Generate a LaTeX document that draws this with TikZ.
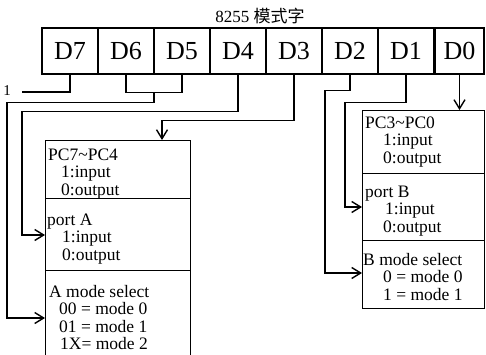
\documentclass[tikz,border=0pt]{standalone}
\usepackage{fontspec}
\setmainfont{Liberation Serif}
\newfontfamily\cjk{Noto Sans CJK SC}
\usetikzlibrary{arrows.meta,calc}
\begin{document}
\begin{tikzpicture}[x=1pt,y=-1pt,
  cell/.style={draw,line width=1.4pt,minimum height=46pt,inner sep=0pt,font=\fontsize{26}{28}\selectfont},
  sect/.style={draw,line width=1.4pt,inner sep=0pt,anchor=north west},
  txt/.style={anchor=north west,inner sep=0pt,align=left,font=\fontsize{17.5}{17.5}\selectfont},
  wire/.style={line width=1.4pt},
  arr/.style={wire,-{Straight Barb[length=9pt,width=11pt,line width=1.4pt]}}]
\useasboundingbox (0,0) rectangle (486,355);
\clip (0,0) rectangle (486,355);
\node[font=\fontsize{17}{19}\selectfont] (title) at (260,16) {8255 {\cjk 模式字}};
\node[cell,minimum width=56pt] (d7) at (70,51) {D7};
\node[cell,minimum width=56pt] (d6) at (126,51) {D6};
\node[cell,minimum width=56pt] (d5) at (182,51) {D5};
\node[cell,minimum width=56pt] (d4) at (238,51) {D4};
\node[cell,minimum width=56pt] (d3) at (294,51) {D3};
\node[cell,minimum width=56pt] (d2) at (350,51) {D2};
\node[cell,minimum width=56pt] (d1) at (406,51) {D1};
\node[cell,minimum width=49pt] (d0) at (459.5,51) {D0};
% left box
\node[sect,minimum width=145pt,minimum height=58pt] (pch) at (45,140) {};
\node[sect,minimum width=145pt,minimum height=72pt] (pa) at (45,198) {};
\node[sect,minimum width=145pt,minimum height=92pt] (am) at (45,270) {};
% right box
\node[sect,minimum width=122pt,minimum height=63pt] (pcl) at (362,110) {};
\node[sect,minimum width=122pt,minimum height=67pt] (pb) at (362,173) {};
\node[sect,minimum width=122pt,minimum height=68pt] (bm) at (362,240) {};
% texts
\node[txt] (tpch) at (48,147) {\rule{0pt}{13pt}PC7\textasciitilde PC4\\\hspace*{13pt}1:input\\\hspace*{13pt}0:output};
\node[txt] (tpa) at (47,212) {\rule{0pt}{13pt}port A\\\hspace*{15pt}1:input\\\hspace*{15pt}0:output};
\node[txt] (tam) at (49,284) {\rule{0pt}{13pt}A mode select\\\hspace*{10pt}00 = mode 0\\\hspace*{10pt}01 = mode 1\\\hspace*{11pt}1X= mode 2};
\node[txt] (tpcl) at (365,115) {\rule{0pt}{13pt}PC3\textasciitilde PC0\\\hspace*{18pt}1:input\\\hspace*{18pt}0:output};
\node[txt] (tpb) at (365,184) {\rule{0pt}{13pt}port B\\\hspace*{20pt}1:input\\\hspace*{18pt}0:output};
\node[txt] (tbm) at (363,252) {\rule{0pt}{13pt}B mode select\\\hspace*{20pt}0 = mode 0\\\hspace*{20pt}1 = mode 1};
% D7 flag
\coordinate (ld7) at (22,92);
\node[font=\fontsize{15}{15}\selectfont,inner sep=0pt] (one) at (7,91) {1};
\draw[wire] (d7.south) |- (ld7);
% D6 D5
\draw[wire] (d6.south) -- ++(0,18) -| (d5.south);
\coordinate (m65) at ($(d6.south)!.5!(d5.south)+(0,18)$);
\draw[arr] (m65) -- ++(0,10) -| ($(am.north west)+(-38,48)$) -- ($(am.north west)+(0,48)$);
% D4
\draw[arr] (d4.south) -- ++(0,37) -| ($(pa.north west)+(-23,37)$) -- ($(pa.north west)+(0,37)$);
% D3
\draw[arr] (d3.south) -- ++(0,46) -| ($(pch.north west)+(117,0)$);
% D2
\draw[arr] (d2.south) -- ++(0,16) -| ($(bm.north west)+(-37,33)$) -- ($(bm.north west)+(0,33)$);
% D1
\draw[arr] (d1.south) -- ++(0,28) -| ($(pb.north west)+(-17,34)$) -- ($(pb.north west)+(0,34)$);
% D0
\draw[arr] (d0.south) -- (d0.south |- pcl.north);
\end{tikzpicture}
\end{document}
